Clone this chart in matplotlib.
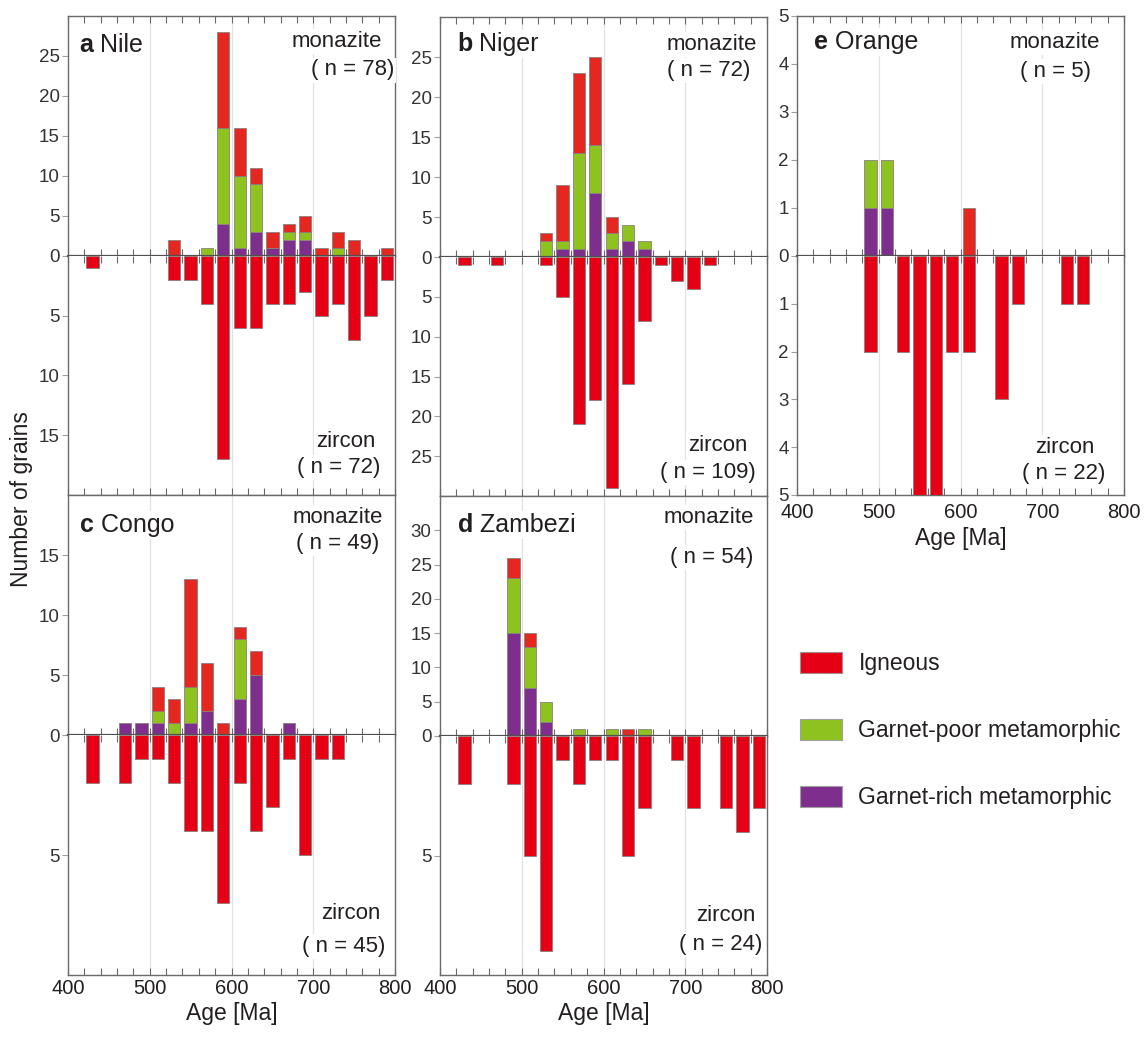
import matplotlib
matplotlib.use("Agg")
import matplotlib.pyplot as plt
from matplotlib.patches import Patch
import numpy as np

plt.rcParams['font.family'] = ['Liberation Sans', 'DejaVu Sans']

# 20 Ma age bins (bin centres, Ma)
age_bins = [410, 430, 450, 470, 490, 510, 530, 550, 570, 590,
            610, 630, 650, 670, 690, 710, 730, 750, 770, 790]

# Monazite grains per bin, split by source-rock type; zircon grains per bin
nile_rich = [0, 0, 0, 0, 0, 0, 0, 0, 0, 4, 1, 3, 1, 2, 2, 0, 0, 0, 0, 0]
nile_poor = [0, 0, 0, 0, 0, 0, 0, 0, 1, 12, 9, 6, 0, 1, 1, 0, 1, 0, 0, 0]
nile_ign = [0, 0, 0, 0, 0, 0, 2, 0, 0, 12, 6, 2, 2, 1, 2, 1, 2, 2, 0, 1]
nile_zrn = [0, 1, 0, 0, 0, 0, 2, 2, 4, 17, 6, 6, 4, 4, 3, 5, 4, 7, 5, 2]

niger_rich = [0, 0, 0, 0, 0, 0, 0, 1, 1, 8, 1, 2, 1, 0, 0, 0, 0, 0, 0, 0]
niger_poor = [0, 0, 0, 0, 0, 0, 2, 1, 12, 6, 2, 2, 1, 0, 0, 0, 0, 0, 0, 0]
niger_ign = [0, 0, 0, 0, 0, 0, 1, 7, 10, 11, 2, 0, 0, 0, 0, 0, 0, 0, 0, 0]
niger_zrn = [0, 1, 0, 1, 0, 0, 1, 5, 21, 18, 29, 16, 8, 1, 3, 4, 1, 0, 0, 0]

congo_rich = [0, 0, 0, 1, 1, 1, 0, 1, 2, 0, 3, 5, 0, 1, 0, 0, 0, 0, 0, 0]
congo_poor = [0, 0, 0, 0, 0, 1, 1, 3, 0, 0, 5, 0, 0, 0, 0, 0, 0, 0, 0, 0]
congo_ign = [0, 0, 0, 0, 0, 2, 2, 9, 4, 1, 1, 2, 0, 0, 0, 0, 0, 0, 0, 0]
congo_zrn = [0, 2, 0, 2, 1, 1, 2, 4, 4, 7, 2, 4, 3, 1, 5, 1, 1, 0, 0, 0]

zambezi_rich = [0, 0, 0, 0, 15, 7, 2, 0, 0, 0, 0, 0, 0, 0, 0, 0, 0, 0, 0, 0]
zambezi_poor = [0, 0, 0, 0, 8, 6, 3, 0, 1, 0, 1, 0, 1, 0, 0, 0, 0, 0, 0, 0]
zambezi_ign = [0, 0, 0, 0, 3, 2, 0, 0, 0, 0, 0, 1, 0, 0, 0, 0, 0, 0, 0, 0]
zambezi_zrn = [0, 2, 0, 0, 2, 5, 9, 1, 2, 1, 1, 5, 3, 0, 1, 3, 0, 3, 4, 3]

orange_rich = [0, 0, 0, 0, 1, 1, 0, 0, 0, 0, 0, 0, 0, 0, 0, 0, 0, 0, 0, 0]
orange_poor = [0, 0, 0, 0, 1, 1, 0, 0, 0, 0, 0, 0, 0, 0, 0, 0, 0, 0, 0, 0]
orange_ign = [0, 0, 0, 0, 0, 0, 0, 0, 0, 0, 1, 0, 0, 0, 0, 0, 0, 0, 0, 0]
orange_zrn = [0, 0, 0, 0, 2, 0, 2, 5, 5, 2, 2, 0, 3, 1, 0, 0, 1, 1, 0, 0]

legend_labels = ['Igneous', 'Garnet-poor metamorphic', 'Garnet-rich metamorphic']
x_tick_labels = ['400', '500', '600', '700', '800']

C_IGN_MZ = '#e5281f'
C_IGN_ZR = '#e50016'
C_POOR = '#8dc21f'
C_RICH = '#7e2f8e'
EDGE = '#8a8080'
SPINE = '#6a6a6a'
TXT = '#231f20'

W, H = 1145, 1037
fig = plt.figure(figsize=(W / 100, H / 100), dpi=100)
fig.patch.set_facecolor('white')

BAR_W = 15


def px_axes(left, top, bottom, width=327):
    return fig.add_axes([left / W, 1 - bottom / H, width / W, (bottom - top) / H])


def bars(ax, values, color, bottom=None):
    v = np.asarray(values, float)
    b = np.zeros_like(v) if bottom is None else np.asarray(bottom, float)
    m = v > 0
    ax.bar(np.asarray(age_bins)[m], v[m], width=BAR_W, bottom=b[m], color=color,
           edgecolor=EDGE, linewidth=0.6, zorder=3)


def style(ax, yticks, top_ticks, bottom_ticks, xlabels, xpad=3):
    ax.set_xlim(400, 800)
    ax.set_xticks([400, 500, 600, 700, 800])
    ax.set_xticks(np.arange(400, 801, 20), minor=True)
    if xlabels:
        ax.set_xticklabels(x_tick_labels)
    ax.tick_params(axis='x', which='both', direction='in', length=5, width=0.8,
                   color=SPINE, top=top_ticks, bottom=bottom_ticks,
                   labelbottom=xlabels, labelsize=14.5, labelcolor=TXT, pad=xpad)
    ax.set_yticks(yticks)
    ax.tick_params(axis='y', which='both', direction='out', length=4, width=0.8,
                   color='#a0a0a0', labelsize=13.5, labelcolor='#333333', pad=2)
    for x in (500, 600, 700):
        ax.axvline(x, color='#e2e2e2', lw=0.9, zorder=0)
    for s in ax.spines.values():
        s.set_color(SPINE)
        s.set_linewidth(1.0)


def label(ax, x, y, s, size=16):
    ax.text(x, y, s, transform=ax.transAxes, ha='right', va='center',
            fontsize=size, color=TXT, zorder=5,
            bbox=dict(facecolor='white', edgecolor='none', pad=1.5))


def title(ax, x, y, letter, name):
    t = ax.text(x, y, letter, transform=ax.transAxes, ha='left', va='center',
                fontsize=18, fontweight='bold', color=TXT, zorder=7)
    ax.annotate(' ' + name, xy=(1, 0), xycoords=t, ha='left', va='bottom',
                fontsize=18, color=TXT, zorder=6,
                bbox=dict(facecolor='white', edgecolor='none', pad=1.5))


panels = [
    # geometry (left, top, zero, bottom) in px, limits, ticks, texts
    dict(px=(68, 16, 256, 495), rich=nile_rich, poor=nile_poor, ign=nile_ign, zrn=nile_zrn,
         up=30, lo=20, upt=[0, 5, 10, 15, 20, 25], lot=[5, 10, 15],
         letter='a', name='Nile', tpos=(0.034, 0.88),
         mz=('monazite', 0.96, 0.893), mzn=('( n = 78)', 0.997, 0.775),
         zr=('zircon', 0.94, 0.223), zrn_t=('( n = 72)', 0.955, 0.113),
         xlab=False, top_ticks=True, xpad=3),
    dict(px=(440, 17, 257, 496), rich=niger_rich, poor=niger_poor, ign=niger_ign, zrn=niger_zrn,
         up=30, lo=30, upt=[0, 5, 10, 15, 20, 25], lot=[5, 10, 15, 20, 25],
         letter='b', name='Niger', tpos=(0.052, 0.887),
         mz=('monazite', 0.97, 0.887), mzn=('( n = 72)', 0.95, 0.776),
         zr=('zircon', 0.94, 0.21), zrn_t=('( n = 109)', 0.965, 0.10),
         xlab=False, top_ticks=True, xpad=3),
    dict(px=(797, 16, 256, 495), rich=orange_rich, poor=orange_poor, ign=orange_ign, zrn=orange_zrn,
         up=5, lo=5, upt=[0, 1, 2, 3, 4, 5], lot=[1, 2, 3, 4, 5],
         letter='e', name='Orange', tpos=(0.051, 0.89),
         mz=('monazite', 0.927, 0.89), mzn=('( n = 5)', 0.90, 0.77),
         zr=('zircon', 0.911, 0.2), zrn_t=('( n = 22)', 0.942, 0.09),
         xlab=True, top_ticks=True, xpad=6),
    dict(px=(68, 495, 735, 975), rich=congo_rich, poor=congo_poor, ign=congo_ign, zrn=congo_zrn,
         up=20, lo=10, upt=[0, 5, 10, 15], lot=[5],
         letter='c', name='Congo', tpos=(0.036, 0.875),
         mz=('monazite', 0.962, 0.906), mzn=('( n = 49)', 0.952, 0.797),
         zr=('zircon', 0.956, 0.258), zrn_t=('( n = 45)', 0.972, 0.117),
         xlab=True, top_ticks=False, xpad=3),
    dict(px=(440, 496, 736, 975), rich=zambezi_rich, poor=zambezi_poor, ign=zambezi_ign,
         zrn=zambezi_zrn, up=35, lo=10, upt=[0, 5, 10, 15, 20, 25, 30], lot=[5],
         letter='d', name='Zambezi', tpos=(0.055, 0.88),
         mz=('monazite', 0.961, 0.909), mzn=('( n = 54)', 0.959, 0.743),
         zr=('zircon', 0.964, 0.248), zrn_t=('( n = 24)', 0.985, 0.129),
         xlab=True, top_ticks=False, xpad=3),
]

for p in panels:
    left, top, zero, bottom = p['px']
    ax_up = px_axes(left, top, zero)
    ax_lo = px_axes(left, zero, bottom)

    rich = np.asarray(p['rich'], float)
    poor = np.asarray(p['poor'], float)
    bars(ax_up, rich, C_RICH)
    bars(ax_up, poor, C_POOR, bottom=rich)
    bars(ax_up, p['ign'], C_IGN_MZ, bottom=rich + poor)
    bars(ax_lo, p['zrn'], C_IGN_ZR)

    ax_up.set_ylim(0, p['up'])
    ax_lo.set_ylim(p['lo'], 0)

    style(ax_up, p['upt'], p['top_ticks'], True, False)
    style(ax_lo, p['lot'], True, True, p['xlab'], p['xpad'])
    ax_up.spines['bottom'].set_color('#505050')
    ax_up.spines['bottom'].set_linewidth(1.6)
    ax_lo.spines['top'].set_visible(False)
    ax_up.spines['bottom'].set_zorder(4)

    if p['xlab']:
        ax_lo.set_xlabel('Age [Ma]', fontsize=16.5, color=TXT, labelpad=3)

    title(ax_up, *p['tpos'], p['letter'], p['name'])
    label(ax_up, p['mz'][1], p['mz'][2], p['mz'][0])
    label(ax_up, p['mzn'][1], p['mzn'][2], p['mzn'][0])
    label(ax_lo, p['zr'][1], p['zr'][2], p['zr'][0])
    label(ax_lo, p['zrn_t'][1], p['zrn_t'][2], p['zrn_t'][0])

fig.text(22 / W, 1 - 499 / H, 'Number of grains', rotation=90, ha='center',
         va='center', fontsize=16.5, color=TXT)

handles = [Patch(facecolor=C_IGN_ZR, edgecolor='#a09090', linewidth=0.8),
           Patch(facecolor=C_POOR, edgecolor='#a0a0a0', linewidth=0.8),
           Patch(facecolor=C_RICH, edgecolor='#a0a0a0', linewidth=0.8)]
fig.legend(handles, legend_labels, loc='upper left', bbox_to_anchor=(800 / W, 1 - 652 / H),
           frameon=False, fontsize=16.5, handlelength=1.85, handleheight=1.05,
           labelspacing=1.9, handletextpad=0.7, borderpad=0, borderaxespad=0,
           labelcolor=TXT)

fig.savefig('out.png', dpi=100, facecolor='white')
